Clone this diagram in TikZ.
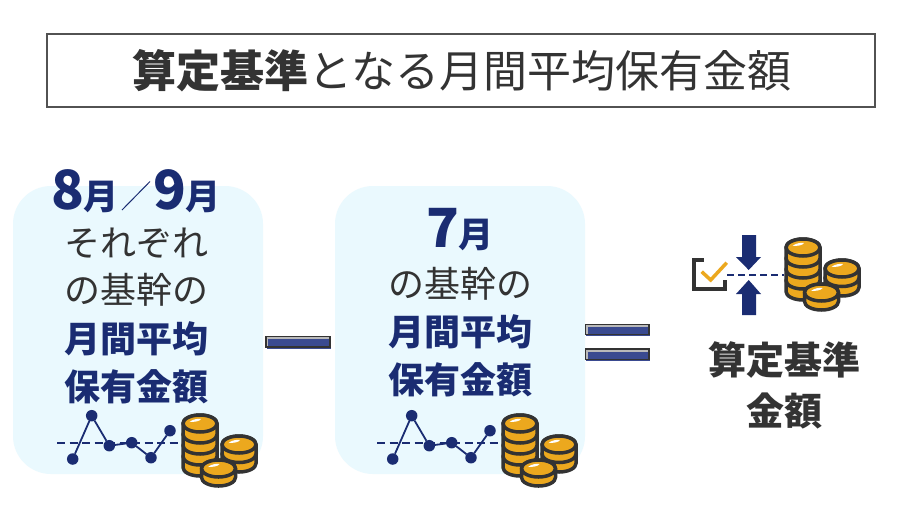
\documentclass[tikz,border=0pt]{standalone}
\usepackage{fontspec}
\setmainfont{Noto Sans CJK JP}
\definecolor{navy}{HTML}{1A2C72}
\definecolor{ink}{HTML}{333333}
\definecolor{panel}{HTML}{EAF9FE}
\definecolor{gold}{HTML}{ECA81E}
\definecolor{barfill}{HTML}{3A4A90}
\newcommand{\fs}[1]{\fontsize{#1}{#1}\selectfont}
\newcommand{\coinstack}[4]{% x, y of top ellipse centre, layers, layer height
  \pgfmathtruncatemacro{\layerlast}{#3-1}
  \foreach \k in {\layerlast,...,0}{
    \pgfmathsetmacro{\yy}{#2+\k*#4}
    \draw[coin] (#1-17,\yy) -- (#1-17,\yy+#4) arc[start angle=180,end angle=0,x radius=17,y radius=8.5] -- (#1+17,\yy) arc[start angle=0,end angle=-180,x radius=17,y radius=8.5] -- cycle;
  }
  \draw[coin] (#1,#2) ellipse[x radius=17,y radius=8.5];
  \fill[white] (#1-10.5,#2-1.5) .. controls (#1-7,#2-4.5) and (#1-2,#2-5) .. (#1+1,#2-4.5) .. controls (#1,#2-2) and (#1-6,#2-1.5) .. (#1-10.5,#2-1.5) -- cycle;
}
\newcommand{\coinset}[2]{% offset
  \coinstack{200+#1}{423.5+#2}{4}{11}
  \coinstack{239+#1}{444.5+#2}{2}{9.5}
  \coinstack{218.5+#1}{468.5+#2}{1}{9}
}
\tikzset{
  coin/.style={draw=ink,fill=gold,line width=3.5pt,line join=round},
  panelbox/.style={fill=panel,rounded corners=38pt},
  txt/.style={inner sep=0pt,outer sep=0pt,anchor=center,text=ink},
  em/.style={inner sep=0pt,outer sep=0pt,anchor=center,text=navy,font=\bfseries\fs{36}},
  plain/.style={inner sep=0pt,outer sep=0pt,anchor=center,text=ink,font=\fs{36}},
  big/.style={inner sep=0pt,outer sep=0pt,anchor=base,text=navy,font=\bfseries},
  dot/.style={circle,fill=navy,minimum size=11.5pt,inner sep=0pt,outer sep=0pt},
  trend/.style={draw=navy,line width=1.8pt},
  refline/.style={draw=navy,line width=1.7pt,dash pattern=on 8pt off 4.5pt},
  barbg/.style={draw=ink,line width=1.6pt,fill=gray!55},
  barfg/.style={fill=barfill},
  pointer/.style={fill=navy}
}
\begin{document}
\begin{tikzpicture}[x=1pt,y=-1pt]
\useasboundingbox (0,0) rectangle (920,504);
\fill[white] (0,0) rectangle (920,504);
% title
\node[draw=ink!85,line width=1.5pt,minimum width=828pt,minimum height=73pt,inner sep=0pt,anchor=center,text=ink] (title) at (461,70.5) {\hspace{2pt}\fs{44}{\bfseries 算定基準}となる月間平均保有金額};
% panels
\fill[panelbox] (13,186) rectangle (263,474);
\fill[panelbox] (335,186) rectangle (585,474);
% left texts
\node[big,anchor=base] (eight) at (85,209) {\fs{54}8\fs{35}月};
\coordinate (slashA) at (122,210);
\coordinate (slashB) at (150,181.5);
\draw[navy,line width=1pt] (slashA) -- (slashB);
\node[big,anchor=base] (nine) at (187,209) {\fs{54}9\fs{35}月};
\node[plain] (l1) at (136,243.5) {それぞれ};
\node[plain] (l2) at (136,290) {の基幹の};
\node[em] (l3) at (136,339) {月間平均};
\node[em] (l4) at (136,387) {保有金額};
% middle texts
\node[big,anchor=base] (seven) at (460,247) {\fs{54}7\fs{35}月};
\node[plain] (m2) at (460,284) {の基幹の};
\node[em] (m3) at (460,332) {月間平均};
\node[em] (m4) at (460,380) {保有金額};
% right texts
\node[txt,font=\bfseries\fs{38}] (r1) at (784,360) {算定基準};
\node[txt,font=\bfseries\fs{38}] (r2) at (784,411) {金額};
% charts
\foreach \ox/\nm in {0/a,320/b}{
  \coordinate (\nm s) at (57+\ox,443.3);
  \coordinate (\nm e) at (182+\ox,443.3);
  \draw[refline] (\nm s) -- (\nm e);
  \node[dot] (\nm 1) at (72.7+\ox,459) {};
  \node[dot] (\nm 2) at (91.7+\ox,415.7) {};
  \node[dot] (\nm 3) at (109.3+\ox,445.7) {};
  \node[dot] (\nm 4) at (131.7+\ox,442.7) {};
  \node[dot] (\nm 5) at (151+\ox,457.7) {};
  \node[dot] (\nm 6) at (170+\ox,430.7) {};
  \draw[trend] (\nm 1) -- (\nm 2) -- (\nm 3) -- (\nm 4) -- (\nm 5) -- (\nm 6);
}
% coins
\coinset{0}{0}
\coinset{320}{0}
\coinset{603}{-176}
% minus and equals
\fill[barfg] (267,337) rectangle (331,348.5);
\draw[barbg] (266,336.5) rectangle (330,347);
\fill[barfg] (268,339) rectangle (329,346);
\fill[barfg] (586,325) rectangle (650,335.5);
\draw[barbg] (585.5,324.5) rectangle (649,334.5);
\fill[barfg] (587.5,327) rectangle (648,333.5);
\fill[barfg] (586,349.5) rectangle (650,360.5);
\draw[barbg] (585.5,349) rectangle (649,359.5);
\fill[barfg] (587.5,351.5) rectangle (648,358.5);
% check icon
\draw[ink,line width=3.5pt] (703.5,260) -- (694,260) -- (694,289) -- (725,289) -- (725,280);
\draw[gold,line width=3.5pt] (701.7,271.7) -- (710.7,280) -- (726.7,262.7);
\coordinate (gs) at (727,275);
\coordinate (ge) at (784,275);
\draw[refline,dash pattern=on 7pt off 4pt] (gs) -- (ge);
\fill[pointer] (742,235) -- (756,235) -- (756,257) -- (761,257) -- (748.7,270) -- (736,257) -- (742,257) -- cycle;
\fill[pointer] (742,315) -- (756,315) -- (756,294) -- (761,294) -- (748.7,280) -- (736,294) -- (742,294) -- cycle;
\end{tikzpicture}
\end{document}
